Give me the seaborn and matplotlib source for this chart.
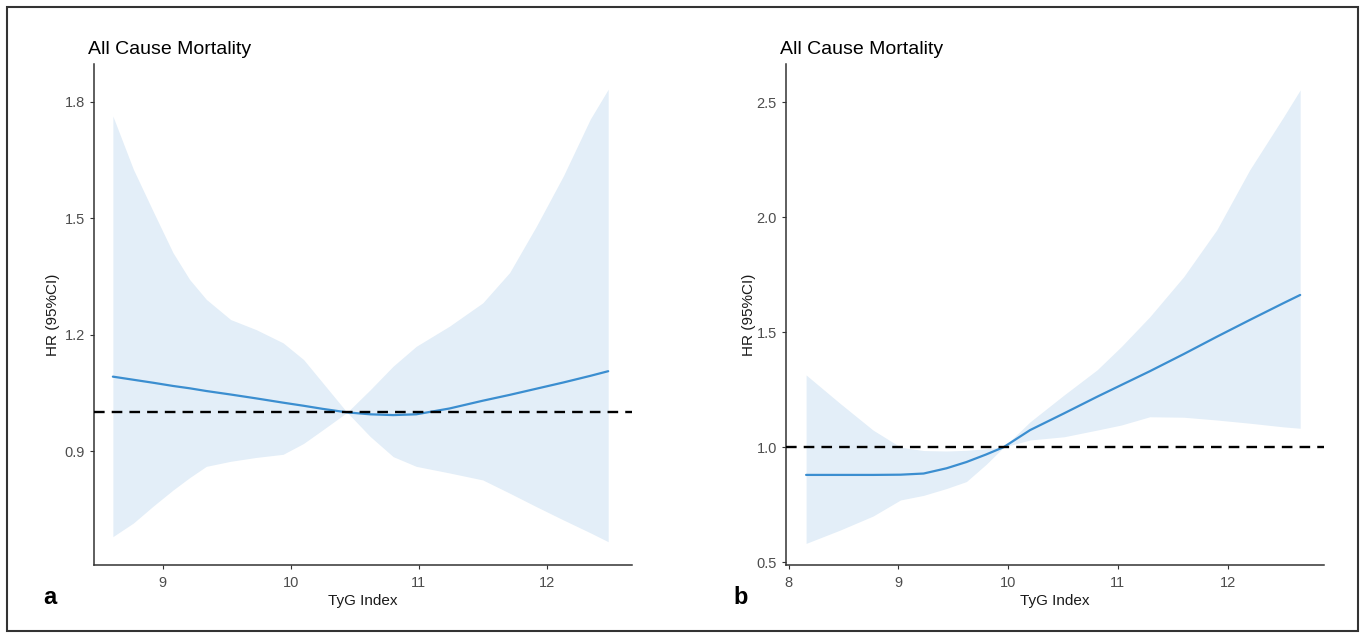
import matplotlib
matplotlib.use("Agg")
import matplotlib.pyplot as plt
from matplotlib.patches import Rectangle
import seaborn as sns

sns.set_theme(style="ticks")
plt.rcParams["font.family"] = ["Liberation Sans", "DejaVu Sans"]

# ----------------------------------------------------------------------
# Data (restricted cubic spline, HR with 95% CI)
# ----------------------------------------------------------------------
# panel a
tyg_a = [8.61, 8.77, 8.93, 9.08, 9.21, 9.34, 9.53, 9.73, 9.94, 10.10, 10.25,
         10.44, 10.62, 10.80, 10.98, 11.24, 11.50, 11.71, 11.92, 12.13, 12.34, 12.48]
hr_a = [1.092, 1.084, 1.076, 1.068, 1.062, 1.055, 1.046, 1.036, 1.025, 1.017, 1.009,
        1.000, 0.995, 0.993, 0.995, 1.010, 1.030, 1.045, 1.061, 1.077, 1.094, 1.106]
upper_a = [1.763, 1.626, 1.514, 1.411, 1.342, 1.291, 1.239, 1.213, 1.179, 1.136, 1.076,
           1.000, 1.058, 1.119, 1.170, 1.222, 1.282, 1.360, 1.480, 1.609, 1.755, 1.832]
lower_a = [0.680, 0.715, 0.760, 0.800, 0.832, 0.861, 0.874, 0.884, 0.892, 0.920, 0.955,
           1.000, 0.938, 0.886, 0.861, 0.844, 0.826, 0.792, 0.757, 0.723, 0.690, 0.667]

# panel b
tyg_b = [8.16, 8.47, 8.77, 9.02, 9.23, 9.44, 9.62, 9.80, 9.96, 10.20, 10.51, 10.81,
         11.03, 11.29, 11.60, 11.90, 12.20, 12.51, 12.66]
hr_b = [0.879, 0.879, 0.879, 0.880, 0.885, 0.908, 0.935, 0.968, 1.000, 1.074, 1.147,
        1.219, 1.270, 1.330, 1.405, 1.480, 1.553, 1.627, 1.662]
upper_b = [1.314, 1.190, 1.074, 1.000, 0.985, 0.983, 0.986, 0.993, 1.000, 1.110, 1.227,
           1.336, 1.437, 1.567, 1.742, 1.945, 2.206, 2.438, 2.554]
lower_b = [0.581, 0.639, 0.700, 0.770, 0.790, 0.820, 0.850, 0.925, 1.000, 1.031, 1.045,
           1.074, 1.096, 1.132, 1.130, 1.118, 1.104, 1.088, 1.082]

xticks_a = [9, 10, 11, 12]
yticks_a = [0.9, 1.2, 1.5, 1.8]
ytick_labels_a = ["0.9", "1.2", "1.5", "1.8"]
xticks_b = [8, 9, 10, 11, 12]
yticks_b = [0.5, 1.0, 1.5, 2.0, 2.5]
ytick_labels_b = ["0.5", "1.0", "1.5", "2.0", "2.5"]

title = "All Cause Mortality"
xlabel = "TyG Index"
ylabel = "HR (95%CI)"

LINE_COLOR = "#3B8ED0"
FILL_COLOR = "#E3EEF8"
AXIS_COLOR = "#333333"
TICK_TEXT = "#4D4D4D"

W, H = 1365, 636
fig = plt.figure(figsize=(W / 100, H / 100), dpi=100)
fig.patch.set_facecolor("white")

panels = [
    dict(x=tyg_a, hr=hr_a, lo=lower_a, hi=upper_a, left=94, xlim=(8.4625, 12.666),
         ylim=(0.607, 1.897), xt=xticks_a, yt=yticks_a, ytl=ytick_labels_a,
         letter="a", letter_x=43, ylab_x=-0.063),
    dict(x=tyg_b, hr=hr_b, lo=lower_b, hi=upper_b, left=786, xlim=(7.977, 12.877),
         ylim=(0.487, 2.667), xt=xticks_b, yt=yticks_b, ytl=ytick_labels_b,
         letter="b", letter_x=733, ylab_x=-0.056),
]

for p in panels:
    ax = fig.add_axes([p["left"] / W, (H - 565) / H, 538 / W, 501 / H])
    ax.set_facecolor("white")

    ax.fill_between(p["x"], p["lo"], p["hi"], color=FILL_COLOR, linewidth=0, zorder=1)
    sns.lineplot(x=p["x"], y=p["hr"], ax=ax, color=LINE_COLOR, linewidth=1.6, zorder=2)
    ax.axhline(1.0, color="black", linewidth=1.7, linestyle=(0, (4.5, 3)), zorder=3)

    ax.set_xlim(*p["xlim"])
    ax.set_ylim(*p["ylim"])
    ax.set_xticks(p["xt"])
    ax.set_xticklabels([str(t) for t in p["xt"]])
    ax.set_yticks(p["yt"])
    ax.set_yticklabels(p["ytl"])

    sns.despine(ax=ax)
    for side in ["left", "bottom"]:
        ax.spines[side].set_color(AXIS_COLOR)
        ax.spines[side].set_linewidth(1.1)
    ax.tick_params(axis="both", direction="out", length=3, width=0.8, color=AXIS_COLOR,
                   labelsize=10.5, labelcolor=TICK_TEXT)
    ax.tick_params(axis="x", pad=5)
    ax.tick_params(axis="y", pad=3.5)
    ax.grid(False)

    ax.set_xlabel(xlabel, fontsize=11, color="#1A1A1A")
    ax.set_ylabel(ylabel, fontsize=11, color="#1A1A1A")
    ax.xaxis.set_label_coords(0.5, -0.058)
    ax.xaxis.label.set_va("top")
    ax.yaxis.set_label_coords(p["ylab_x"], 0.5)

    fig.text((p["left"] - 6) / W, 1 - 49 / H, title, fontsize=14, color="black",
             ha="left", va="center")
    fig.text(p["letter_x"] / W, 1 - 598 / H, p["letter"], fontsize=17, fontweight="bold",
             color="black", ha="left", va="center")

# outer frame of the figure
fig.patches.append(Rectangle((7 / W, 5 / H), (1358 - 7) / W, (629 - 5) / H,
                             transform=fig.transFigure, fill=False,
                             edgecolor="#333333", linewidth=1.5))

fig.savefig("out.png", dpi=100, facecolor="white")
plt.close(fig)
